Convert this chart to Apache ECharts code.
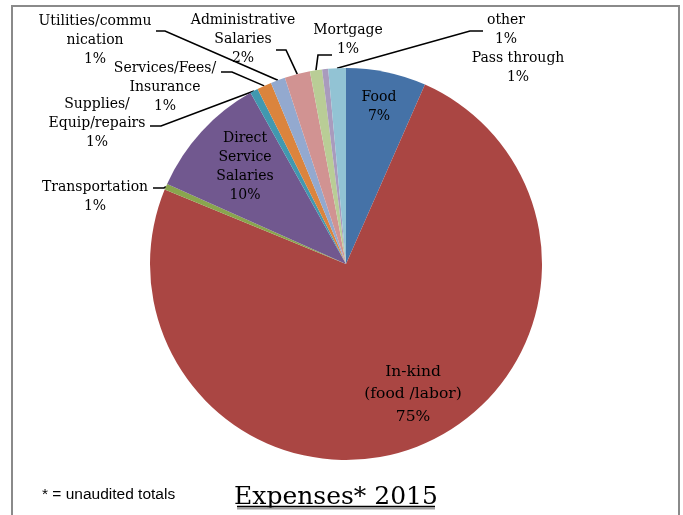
<!DOCTYPE html>
<html>
<head>
<meta charset="utf-8">
<script src="https://cdn.jsdelivr.net/npm/echarts@6/dist/echarts.min.js"></script>
<style>
  html, body { margin: 0; padding: 0; background: #fff; }
  #chart { width: 683px; height: 515px; }
</style>
</head>
<body>
<div id="chart"></div>
<script>
// Gastos 2015 - pastel estilo Excel

// datos (porcentajes del total)
const categories = [
  "Food",
  "In-kind\n(food /labor)",
  "Transportation",
  "Direct\nService\nSalaries",
  "Supplies/\nEquip/repairs",
  "Services/Fees/\nInsurance",
  "Utilities/commu\nnication",
  "Administrative\nSalaries",
  "Mortgage",
  "other",
  "Pass through"
];
const values = [6.6, 74.6, 0.5, 10.2, 0.65, 1.2, 1.2, 2.1, 1.0, 0.5, 1.45];
const colors = [
  "#4572A7", "#AA4643", "#89A54E", "#71588F", "#4198AF", "#DB843D",
  "#93A9CF", "#D19392", "#B9CD96", "#A99BBD", "#92C3D4"
];
const titleText = "Expenses* 2015";
const noteText = "* = unaudited totals";

// dónde va cada etiqueta (centro del texto) y el codo de la línea guía
const labelSpots = [
  { x: 379, y: 107 },
  { x: 413, y: 394, size: 15.5, lh: 22.5 },
  { x: 95, y: 197, line: [[164, 188], [153, 188]] },
  { x: 245, y: 167 },
  { x: 97, y: 123, line: [[161, 126], [150, 126]] },
  { x: 165, y: 87, line: [[232, 72], [221, 72]] },
  { x: 95, y: 40, line: [[165, 31], [156, 31]] },
  { x: 243, y: 39, line: [[286, 50], [276, 50]] },
  { x: 348, y: 40, line: [[318, 55], [332, 55]] },
  { x: 506, y: 30 },
  { x: 518, y: 68, line: [[470, 31], [483, 31]] }
];

const serif = "'DejaVu Serif', serif";

const pieData = categories.map((name, i) => {
  const spot = labelSpots[i];
  const item = {
    name: name,
    value: values[i],
    itemStyle: { color: colors[i] },
    label: { position: spot.line || i === 9 ? "outside" : "inside" },
    labelLine: { show: !!spot.line }
  };
  if (spot.size) {
    item.label.fontSize = spot.size;
    item.label.lineHeight = spot.lh;
  }
  return item;
});

const chart = echarts.init(document.getElementById("chart"));

chart.setOption({
  backgroundColor: "#fff",
  animation: false,
  graphic: [
    {
      type: "rect",
      shape: { x: 12, y: 6, width: 667, height: 540 },
      style: { fill: "none", stroke: "#8a8a8a", lineWidth: 2 },
      z: -1
    },
    {
      type: "text",
      x: 336, y: 510,
      style: {
        text: titleText,
        font: "25px " + serif,
        fill: "#000",
        align: "center",
        verticalAlign: "bottom"
      }
    },
    {
      type: "line",
      shape: { x1: 237, y1: 508.5, x2: 435, y2: 508.5 },
      style: { stroke: "#a0a0a0", lineWidth: 2 }
    },
    {
      type: "line",
      shape: { x1: 237, y1: 506.5, x2: 435, y2: 506.5 },
      style: { stroke: "#000", lineWidth: 1.3 }
    },
    {
      type: "text",
      x: 42, y: 495,
      style: {
        text: noteText,
        font: "15.5px 'Liberation Sans Narrow', 'Liberation Sans', sans-serif",
        fill: "#000",
        align: "left",
        verticalAlign: "middle"
      }
    }
  ],
  series: [
    {
      type: "pie",
      center: [346, 264],
      radius: [0, 196],
      startAngle: 90,
      clockwise: true,
      avoidLabelOverlap: false,
      itemStyle: { borderWidth: 0 },
      label: {
        show: true,
        color: "#000",
        fontFamily: serif,
        fontSize: 14,
        lineHeight: 19,
        align: "center",
        formatter: (p) => p.name + "\n" + Math.round(p.percent) + "%"
      },
      labelLine: {
        lineStyle: { color: "#000", width: 1.6 }
      },
      labelLayout: function (params) {
        const spot = labelSpots[params.dataIndex];
        const out = { x: spot.x, y: spot.y, align: "center", verticalAlign: "middle" };
        if (spot.line && params.labelLinePoints) {
          out.labelLinePoints = [params.labelLinePoints[0], spot.line[0], spot.line[1]];
        }
        return out;
      },
      emphasis: { disabled: true },
      data: pieData
    }
  ]
});
</script>
</body>
</html>
